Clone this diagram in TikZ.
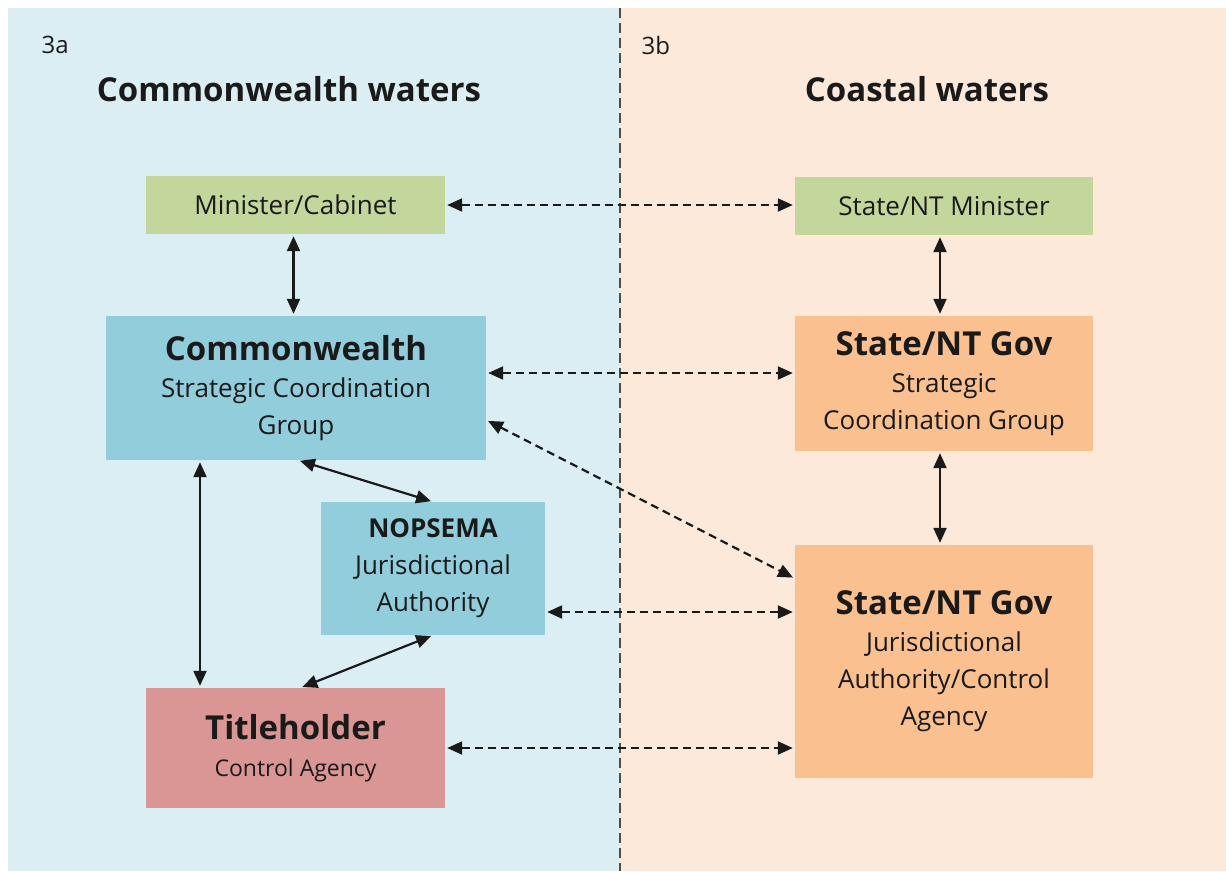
\documentclass[tikz,border=0pt]{standalone}
\usepackage{fontspec}
\setmainfont{Open Sans}
\usetikzlibrary{arrows.meta,calc}
\definecolor{bgblue}{HTML}{DBEEF4}
\definecolor{bgpeach}{HTML}{FDE9D9}
\definecolor{boxgreen}{HTML}{C3D69B}
\definecolor{boxblue}{HTML}{92CDDC}
\definecolor{boxorange}{HTML}{FAC090}
\definecolor{boxpink}{HTML}{D99694}
\definecolor{txt}{HTML}{1A1A1A}
\begin{document}
\begin{tikzpicture}[x=1pt,y=-1pt,
  box/.style={rectangle,inner sep=0pt,align=center,text=txt,font=\fontsize{26}{37}\selectfont},
  twoway/.style={{Triangle[length=15pt,width=13pt]}-{Triangle[length=15pt,width=13pt]},line width=2.2pt,draw=txt,shorten <=2pt,shorten >=2pt},
  dashtwoway/.style={twoway,dash pattern=on 8pt off 5pt},
  hdr/.style={text=txt,font=\fontsize{33}{38}\selectfont\bfseries},
  tag/.style={text=txt,font=\fontsize{24}{26}\selectfont}]
\useasboundingbox (0,0) rectangle (1226,871);
\fill[white] (0,0) rectangle (1226,871);
\fill[bgblue] (8,8) rectangle (620,871);
\fill[bgpeach] (620,8) rectangle (1226,871);
\draw[line width=1.6pt,draw=black!70,dash pattern=on 10pt off 5pt] (620,8) -- (620,871);
\node[tag,anchor=west] (t3a) at (38,45) {3a};
\node[tag,anchor=west] (t3b) at (638,45) {3b};
\node[hdr] (h1) at (289,89) {Commonwealth waters};
\node[hdr] (h2) at (927,89) {Coastal waters};

\node[box,fill=boxgreen,minimum width=299pt,minimum height=58pt] (min) at (295.5,205) {Minister/Cabinet};
\node[box,fill=boxgreen,minimum width=298pt,minimum height=58pt] (smin) at (944,206) {State/NT Minister};
\node[box,fill=boxblue,minimum width=380pt,minimum height=144pt] (cw) at (296,388)
  {{\fontsize{33}{38}\selectfont\bfseries Commonwealth}\\Strategic Coordination\\Group};
\node[box,fill=boxorange,minimum width=298pt,minimum height=135pt] (ssg) at (944,383.5)
  {{\fontsize{33}{36}\selectfont\bfseries State/NT Gov}\\Strategic\\Coordination Group};
\node[box,fill=boxblue,minimum width=224pt,minimum height=133pt] (nop) at (433,568.5)
  {{\bfseries NOPSEMA}\\Jurisdictional\\Authority};
\node[box,fill=boxorange,minimum width=298pt,minimum height=233pt] (sja) at (944,661.5)
  {{\fontsize{33}{38}\selectfont\bfseries State/NT Gov}\\Jurisdictional\\Authority/Control\\Agency};
\node[box,fill=boxpink,minimum width=299pt,minimum height=120pt] (tit) at (295.5,748)
  {{\fontsize{33}{38}\selectfont\bfseries Titleholder}\\{\fontsize{23}{38}\selectfont Control Agency}};

\draw[twoway] ([xshift=-2pt]min.south) -- ([xshift=-2pt]min.south |- cw.north);
\draw[dashtwoway] (min.east) -- (min.east -| smin.west);
\draw[twoway] ([xshift=-4pt]smin.south) -- ([xshift=-4pt]smin.south |- ssg.north);
\draw[twoway] ([xshift=-4pt]ssg.south) -- ([xshift=-4pt]ssg.south |- sja.north);
\draw[dashtwoway] ([yshift=15pt]cw.east) -- ([yshift=15pt]cw.east -| ssg.west);
\draw[dashtwoway] ([yshift=-32pt]cw.east) -- ([yshift=83pt]sja.west);
\draw[twoway] ([xshift=2pt]cw.south) -- (nop.north);
\draw[twoway] ([xshift=-96pt]cw.south) -- ([xshift=-96pt]cw.south |- tit.north);
\draw[twoway] (nop.south) -- ([xshift=5pt]tit.north);
\draw[dashtwoway] ([yshift=-43.5pt]nop.east) -- ([yshift=-43.5pt]nop.east -| sja.west);
\draw[dashtwoway] (tit.east) -- (tit.east -| sja.west);
\end{tikzpicture}
\end{document}
